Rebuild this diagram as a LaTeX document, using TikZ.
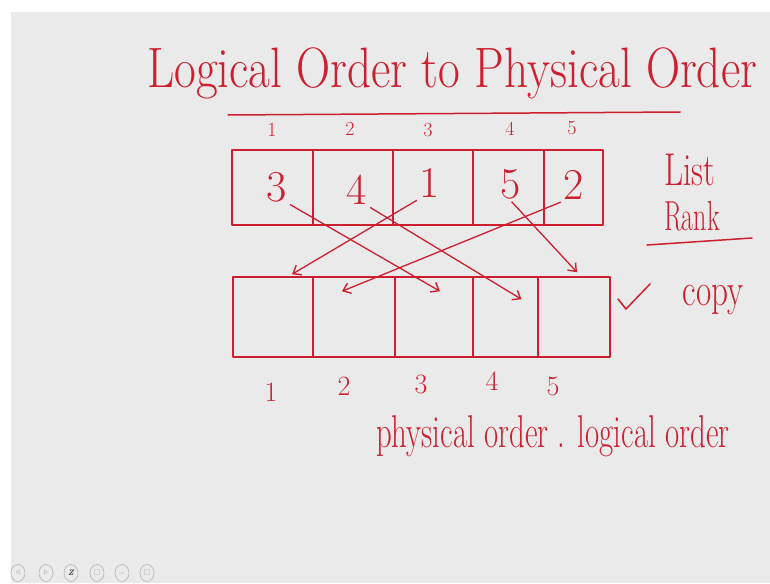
\documentclass[tikz,border=0pt]{standalone}
\usepackage{amssymb}
\usepackage{tikz}
\usetikzlibrary{arrows.meta, positioning, calc, shapes.geometric}
\definecolor{inkred}{RGB}{204,32,48}
\definecolor{slidebg}{RGB}{234,234,234}
\newcommand{\handtext}[2][0.72]{\scalebox{#1}[1]{#2}}
\tikzset{
  inkline/.style={draw=inkred, line width=1.5pt, line cap=round, line join=round},
  inkarr/.style={-{Straight Barb[length=7pt,width=11pt,line width=1.4pt]}, inkred, line width=1.3pt, shorten <=1pt},
}

\begin{document}
\begin{tikzpicture}[x=1pt,y=-1pt]
      \tikzset{
            ordtitle/.style={text=inkred, font=\fontsize{57}{60}\selectfont, inner sep=0pt},
            ordnote/.style={text=inkred, font=\fontsize{46}{50}\selectfont, inner sep=0pt},
            ordsub/.style={text=inkred, font=\fontsize{42}{44}\selectfont, inner sep=0pt},
            ordcell/.style={inkline, inner sep=0pt, minimum height=#1},
            ordval/.style={text=inkred, font=\fontsize{44}{48}\selectfont, inner sep=2pt},
            ordidx/.style={text=inkred, font=\fontsize{20}{22}\selectfont, inner sep=1pt},
            ordidxb/.style={text=inkred, font=\fontsize{28}{30}\selectfont, inner sep=1pt},
            toolbtn/.style={ellipse, draw=gray!55, line width=0.7pt, minimum width=14pt, minimum height=17pt,
                            inner sep=0pt, text=gray!70, font=\fontsize{8}{9}\selectfont}
      }

      % Slide
      \fill[white] (0,0) rectangle (770,583);
      \fill[slidebg] (11,12) rectangle (770,583);
      \useasboundingbox (0,0) rectangle (770,583);

      % Title
      \node[ordtitle, anchor=base west] (title) at (147,88) {\handtext[0.83]{Logical Order to Physical Order}};
      \draw[inkline] (228,115) -- (680,112);

      % Logical positions (top)
      \node[ordidx] (li1) at (272,130) {1};
      \node[ordidx] (li2) at (350,129) {2};
      \node[ordidx] (li3) at (428,130) {3};
      \node[ordidx] (li4) at (510,129) {4};
      \node[ordidx] (li5) at (572,128) {5};

      % Top array: list rank
      \node[ordcell=75pt, minimum width=81pt] (t1) at (272.5,187.5) {};
      \node[ordcell=75pt, minimum width=80pt] (t2) at (353,187.5) {};
      \node[ordcell=75pt, minimum width=80pt] (t3) at (433,187.5) {};
      \node[ordcell=75pt, minimum width=71pt] (t4) at (508.5,187.5) {};
      \node[ordcell=75pt, minimum width=59pt] (t5) at (573.5,187.5) {};

      \node[ordval] (v1) at (277,187) {3};
      \node[ordval] (v2) at (357,190) {4};
      \node[ordval] (v3) at (430,183) {1};
      \node[ordval] (v4) at (511,184) {5};
      \node[ordval] (v5) at (574,185) {2};

      % Bottom array: copy
      \node[ordcell=80pt, minimum width=80pt] (b1) at (273,317) {};
      \node[ordcell=80pt, minimum width=82pt] (b2) at (354,317) {};
      \node[ordcell=80pt, minimum width=78pt] (b3) at (434,317) {};
      \node[ordcell=80pt, minimum width=65pt] (b4) at (505.5,317) {};
      \node[ordcell=80pt, minimum width=72pt] (b5) at (574,317) {};

      % Physical positions (bottom)
      \node[ordidxb] (pi1) at (271,392) {1};
      \node[ordidxb] (pi2) at (344,386) {2};
      \node[ordidxb] (pi3) at (421,384) {3};
      \node[ordidxb] (pi4) at (492,381) {4};
      \node[ordidxb] (pi5) at (553,386) {5};

      % Moves
      \draw[inkarr] (v1.south east) -- ([xshift=6pt,yshift=-15pt]b3.north);
      \draw[inkarr] (v2.south east) -- ([xshift=16pt,yshift=-23pt]b4.north);
      \draw[inkarr] (v3.south west) -- ([xshift=19pt,yshift=2pt]b1.north);
      \draw[inkarr] (v4.south) -- ([xshift=3pt,yshift=4pt]b5.north);
      \draw[inkarr] (v5.south west) -- ([xshift=-12pt,yshift=-15pt]b2.north);

      % Side notes
      \node[ordnote] (list) at (690,170) {\handtext{List}};
      \node[ordsub] (rank) at (692,216) {\handtext[0.62]{Rank}};
      \draw[inkline] (647,245) -- (752,238);
      \node[ordnote] (copy) at (713,300) {\handtext{copy}};
      \draw[inkline] (618,299) -- (626,309) -- (650,284);

      % Result
      \node[ordnote, anchor=base west] (result) at (376,447) {\handtext[0.67]{physical order . logical order}};

      % Player buttons
      \node[toolbtn] (tb1) at (18,573) {$\triangleleft$};
      \node[toolbtn] (tb2) at (46,573) {$\triangleright$};
      \node[toolbtn, text=black!80] (tb3) at (71,573) {\bfseries\itshape Z};
      \node[toolbtn] (tb4) at (97,573) {$\square$};
      \node[toolbtn] (tb5) at (122,573) {$-$};
      \node[toolbtn] (tb6) at (147,573) {$\boxdot$};

\end{tikzpicture}
\end{document}
